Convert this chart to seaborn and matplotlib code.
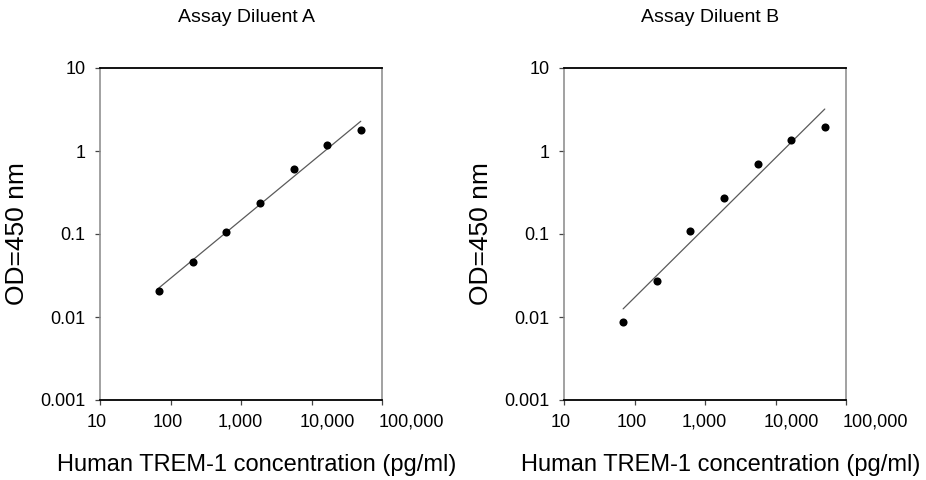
import numpy as np
import pandas as pd
import matplotlib
matplotlib.use("Agg")
import matplotlib.pyplot as plt
import matplotlib.ticker as mticker
import seaborn as sns

# ---- data ----
concentration = [69, 206, 617, 1852, 5556, 16667, 50000]
od_diluent_a = [0.0206, 0.0463, 0.107, 0.239, 0.60, 1.17, 1.78]
od_diluent_b = [0.0088, 0.0272, 0.108, 0.27, 0.697, 1.35, 1.95]
panel_titles = ["Assay Diluent A", "Assay Diluent B"]
x_ticks = [10, 100, 1000, 10000, 100000]
x_tick_labels = ["10", "100", "1,000", "10,000", "100,000"]
y_ticks = [0.001, 0.01, 0.1, 1, 10]
y_tick_labels = ["0.001", "0.01", "0.1", "1", "10"]
x_label = "Human TREM-1 concentration (pg/ml)"
y_label = "OD=450 nm"

# horizontal nudges (points) of the x tick labels, as placed in the reference
x_label_nudge_pt = [-2.2, -2.2, -0.5, 11.5, 21.5]

sns.set_style("white")
plt.rcParams["font.family"] = ["Liberation Sans", "DejaVu Sans"]

fig = plt.figure(figsize=(9.26, 4.8), dpi=100)
axes = [fig.add_axes([100 / 926, 80 / 480, 282 / 926, 332 / 480]),
        fig.add_axes([564 / 926, 80 / 480, 282 / 926, 332 / 480])]

for ax, title, od in zip(axes, panel_titles, [od_diluent_a, od_diluent_b]):
    df = pd.DataFrame({"conc": concentration, "od": od})
    # power-law (log-log linear) fit
    slope, intercept = np.polyfit(np.log10(df["conc"]), np.log10(df["od"]), 1)
    fit = pd.DataFrame({"conc": [concentration[0], concentration[-1]]})
    fit["od"] = 10 ** (intercept + slope * np.log10(fit["conc"]))
    sns.lineplot(data=fit, x="conc", y="od", ax=ax, color="#5a5a5a",
                 linewidth=0.9, zorder=2)
    sns.scatterplot(data=df, x="conc", y="od", ax=ax, color="black",
                    s=34, edgecolor="black", linewidth=0, zorder=3)
    ax.set_xscale("log")
    ax.set_yscale("log")
    ax.set_xlim(10, 100000)
    ax.set_ylim(0.001, 10)
    ax.xaxis.set_major_locator(mticker.FixedLocator(x_ticks))
    ax.xaxis.set_major_formatter(mticker.NullFormatter())
    ax.yaxis.set_major_locator(mticker.FixedLocator(y_ticks))
    ax.yaxis.set_major_formatter(mticker.FixedFormatter(y_tick_labels))
    ax.xaxis.set_minor_locator(mticker.NullLocator())
    ax.yaxis.set_minor_locator(mticker.NullLocator())
    ax.tick_params(axis="both", which="major", direction="out", length=3.5,
                   width=0.9, color="#444444", labelsize=13, labelcolor="black",
                   bottom=True, left=True)
    ax.tick_params(axis="y", pad=7)
    # x tick labels as text anchored at each tick position
    for t, lab, dx in zip(x_ticks, x_tick_labels, x_label_nudge_pt):
        ax.annotate(lab, xy=(t, 0), xycoords=("data", "axes fraction"),
                    xytext=(dx, -10), textcoords="offset points",
                    ha="center", va="top", fontsize=13, color="black",
                    annotation_clip=False)
    for side in ["top", "bottom"]:
        ax.spines[side].set_color("black")
        ax.spines[side].set_linewidth(1.3)
    for side in ["left", "right"]:
        ax.spines[side].set_color("#888888")
        ax.spines[side].set_linewidth(1.1)
    for sp in ax.spines.values():
        sp.set_visible(True)
    ax.set_xlabel(x_label, fontsize=17, color="black")
    ax.xaxis.label.set_va("baseline")
    ax.xaxis.set_label_coords(0.5 + 16 / 282, -71 / 332)
    ax.set_ylabel(y_label, fontsize=19, labelpad=8, color="black")
    ax.set_title(title, fontsize=14, pad=33, color="black", x=0.5 + 5 / 282)

fig.savefig("out.png", dpi=100, facecolor="white")
